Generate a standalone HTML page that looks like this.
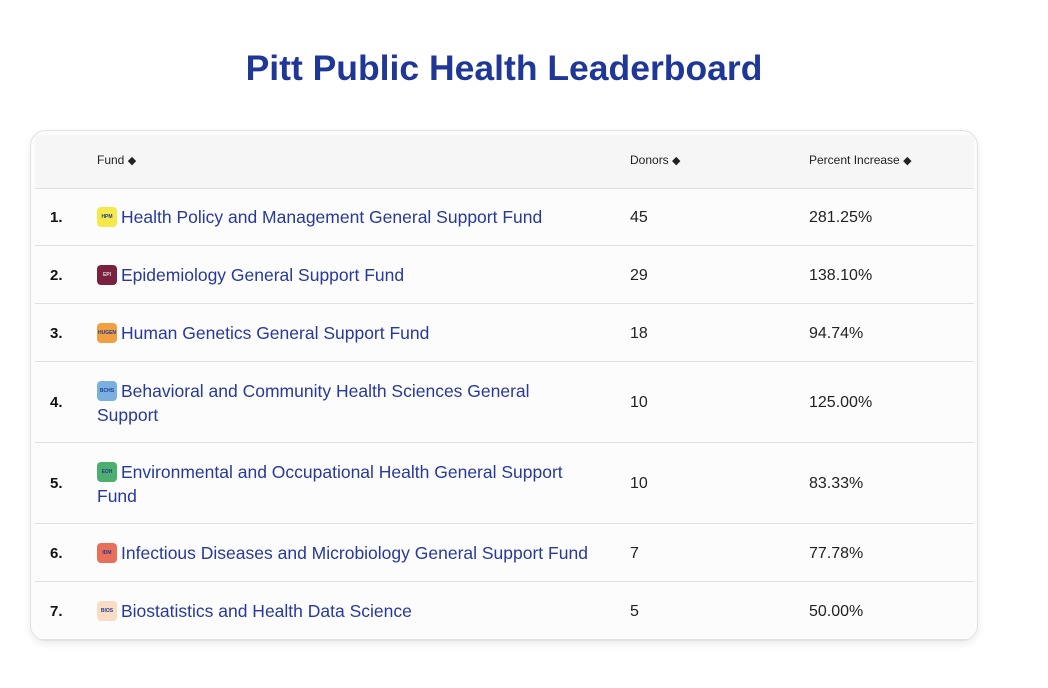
<!DOCTYPE html>
<html><head><meta charset="utf-8"><style>
body{margin:0;width:1048px;height:688px;background:#fff;font-family:"Liberation Sans",sans-serif;position:relative;overflow:hidden}
.t{position:absolute;white-space:nowrap}
h1{position:absolute;left:0;width:1008px;top:48px;margin:0;text-align:center;font-size:35.5px;color:#1f3796;font-weight:bold;letter-spacing:0}
.card{position:absolute;left:30px;top:130px;width:946px;height:509px;border:1px solid #e2e2e2;border-radius:16px;background:#fcfcfc;box-shadow:0 3px 8px rgba(0,0,0,.08);overflow:hidden}
.hd{position:absolute;left:4px;top:4px;width:939px;height:53px;background:#f6f6f6;border-bottom:1px solid #e0e0e0}
.ln{position:absolute;left:4px;width:939px;height:1px;background:#e0e0e0}
.h{font-size:12px;color:#222}
.n{font-size:15px;font-weight:bold;color:#111}
.f{font-size:17.5px;color:#27399a;line-height:24px}
.v{font-size:16px;color:#222}
.ic{display:inline-block;overflow:hidden;width:20px;height:20px;border-radius:4px;vertical-align:-4px;margin-right:4px;font-size:5px;font-weight:bold;color:#24388f;text-align:center;line-height:20px}
.ar{font-size:11px}
</style></head><body>
<h1>Pitt Public Health Leaderboard</h1>
<div class="card">
<div class="hd"></div>
<div class="t h" style="left:66px;top:22px">Fund <span class="ar">◆</span></div>
<div class="t h" style="left:599px;top:22px">Donors <span class="ar">◆</span></div>
<div class="t h" style="left:778px;top:22px">Percent Increase <span class="ar">◆</span></div>

<div class="t n" style="left:19px;top:78px">1.</div>
<div class="t f" style="left:66px;top:74px"><span class="ic" style="background:#f5e84a">HPM</span>Health Policy and Management General Support Fund</div>
<div class="t v" style="left:599px;top:78px">45</div><div class="t v" style="left:778px;top:78px">281.25%</div>
<div class="ln" style="top:114px"></div>

<div class="t n" style="left:19px;top:136px">2.</div>
<div class="t f" style="left:66px;top:132px"><span class="ic" style="background:#7a2140;color:#ddd">EPI</span>Epidemiology General Support Fund</div>
<div class="t v" style="left:599px;top:136px">29</div><div class="t v" style="left:778px;top:136px">138.10%</div>
<div class="ln" style="top:172px"></div>

<div class="t n" style="left:19px;top:194px">3.</div>
<div class="t f" style="left:66px;top:190px"><span class="ic" style="background:#f0a040">HUGEN</span>Human Genetics General Support Fund</div>
<div class="t v" style="left:599px;top:194px">18</div><div class="t v" style="left:778px;top:194px">94.74%</div>
<div class="ln" style="top:230px"></div>

<div class="t n" style="left:19px;top:263px">4.</div>
<div class="t f" style="left:66px;top:248px;white-space:normal;width:470px"><span class="ic" style="background:#7ab0e0">BCHS</span>Behavioral and Community Health Sciences General Support</div>
<div class="t v" style="left:599px;top:263px">10</div><div class="t v" style="left:778px;top:263px">125.00%</div>
<div class="ln" style="top:311px"></div>

<div class="t n" style="left:19px;top:344px">5.</div>
<div class="t f" style="left:66px;top:329px;white-space:normal;width:490px"><span class="ic" style="background:#4caf70">EOH</span>Environmental and Occupational Health General Support Fund</div>
<div class="t v" style="left:599px;top:344px">10</div><div class="t v" style="left:778px;top:344px">83.33%</div>
<div class="ln" style="top:392px"></div>

<div class="t n" style="left:19px;top:414px">6.</div>
<div class="t f" style="left:66px;top:410px"><span class="ic" style="background:#e8705a">IDM</span>Infectious Diseases and Microbiology General Support Fund</div>
<div class="t v" style="left:599px;top:414px">7</div><div class="t v" style="left:778px;top:414px">77.78%</div>
<div class="ln" style="top:450px"></div>

<div class="t n" style="left:19px;top:472px">7.</div>
<div class="t f" style="left:66px;top:468px"><span class="ic" style="background:#f8dcc4">BIOS</span>Biostatistics and Health Data Science</div>
<div class="t v" style="left:599px;top:472px">5</div><div class="t v" style="left:778px;top:472px">50.00%</div>
<div class="ln" style="top:508px"></div>
</div>
</body></html>
